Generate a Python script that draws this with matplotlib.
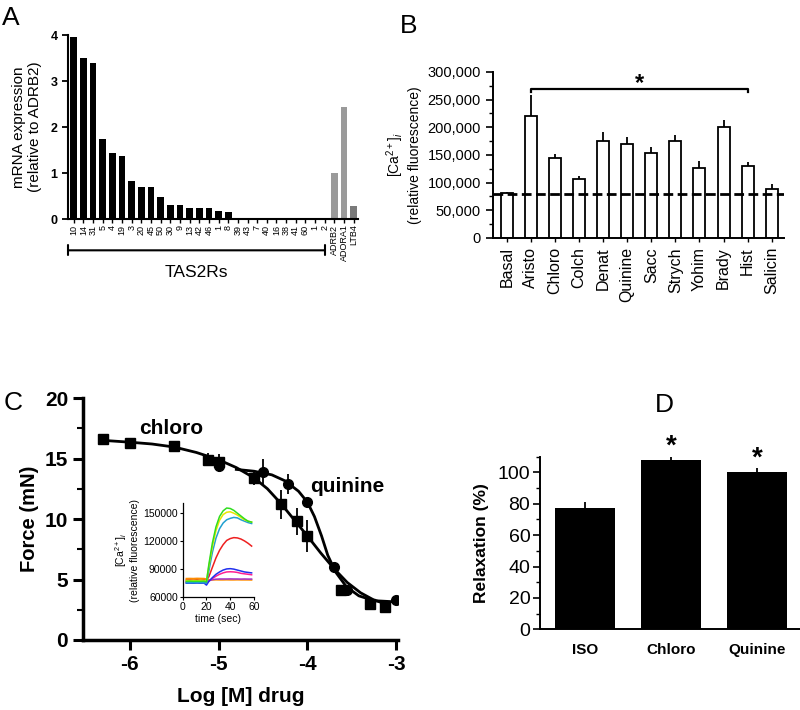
import numpy as np
import matplotlib
matplotlib.use('Agg')
import matplotlib.pyplot as plt
from matplotlib.ticker import MultipleLocator, FuncFormatter

plt.rcParams['font.family'] = ['Liberation Sans', 'DejaVu Sans']
plt.rcParams['axes.unicode_minus'] = False
plt.rcParams['mathtext.fontset'] = 'custom'
plt.rcParams['mathtext.rm'] = 'Liberation Sans'
plt.rcParams['mathtext.it'] = 'Liberation Sans:italic'
plt.rcParams['mathtext.bf'] = 'Liberation Sans:bold'

# ---- Panel A: mRNA expression ----
a_labels = ['10', '14', '31', '5', '4', '19', '3', '20', '45', '50', '30', '9', '13', '42', '46',
            '1', '8', '39', '43', '7', '40', '16', '38', '41', '60', '1', '2',
            'ADRB2', 'ADORA1', 'LTB4']
a_values = [3.95, 3.49, 3.40, 1.75, 1.44, 1.37, 0.83, 0.70, 0.69, 0.47, 0.30, 0.30, 0.25, 0.25, 0.25,
            0.17, 0.15, 0, 0, 0, 0, 0, 0, 0, 0, 0, 0,
            1.0, 2.43, 0.28]
a_colors = ['black'] * 27 + ['#9a9a9a', '#9a9a9a', '#7a7a7a']

# ---- Panel B: calcium response ----
b_labels = ['Basal', 'Aristo', 'Chloro', 'Colch', 'Denat', 'Quinine', 'Sacc', 'Strych',
            'Yohim', 'Brady', 'Hist', 'Salicin']
b_values = [81000, 221000, 144000, 107000, 175000, 170000, 153000, 176000, 127000, 201000, 130000, 89000]
b_errors = [2000, 38000, 8000, 5000, 17000, 12000, 12000, 10000, 12000, 13000, 8000, 8000]
b_basal = 80000

# ---- Panel C: force vs log dose ----
chloro_x = [-6.3, -6.0, -5.5, -5.12, -5.0, -4.6, -4.3, -4.12, -4.0, -3.62, -3.3, -3.12]
chloro_y = [16.6, 16.3, 16.0, 14.9, 14.7, 13.4, 11.2, 9.8, 8.6, 4.1, 3.0, 2.7]
chloro_err = [0, 0, 0, 0.55, 0.7, 0.6, 1.2, 1.1, 1.3, 0.4, 0.2, 0.3]
quinine_x = [-5.0, -4.5, -4.22, -4.0, -3.7, -3.55, -3.0]
quinine_y = [14.4, 13.9, 12.9, 11.4, 6.0, 4.1, 3.3]
quinine_err = [0.5, 1.1, 0.8, 0.3, 0.3, 0.3, 0.2]
# fitted curves
chloro_fit_x = [-6.3, -6.0, -5.75, -5.5, -5.25, -5.0, -4.8, -4.6, -4.45, -4.3, -4.15, -4.0,
                -3.85, -3.7, -3.55, -3.4, -3.25, -3.1]
chloro_fit_y = [16.5, 16.35, 16.2, 15.95, 15.5, 14.9, 14.25, 13.4, 12.5, 11.3, 9.95, 8.6,
                7.2, 5.9, 4.75, 3.9, 3.3, 2.95]
quinine_fit_x = [-4.8, -4.6, -4.4, -4.25, -4.1, -4.0, -3.92, -3.84, -3.77, -3.68, -3.56,
                 -3.42, -3.25, -3.0]
quinine_fit_y = [14.1, 13.95, 13.65, 13.15, 12.3, 11.4, 10.2, 8.6, 7.0, 5.6, 4.4,
                 3.65, 3.25, 3.15]

# inset traces
t_sec = [3, 6, 9, 12, 15, 18, 20, 22, 25, 28, 31, 34, 37, 40, 43, 46, 49, 52, 55, 58]
trace_orange = [80000, 80100, 80000, 80200, 80100, 80000, 79500, 78500, 78500, 78600, 78500, 78500,
                78600, 78500, 78500, 78600, 78500, 78500, 78500, 78400]
trace_purple = [76500, 76500, 76600, 76500, 76500, 76600, 76000, 77500, 78800, 79300, 79500, 79500,
                79500, 79600, 79500, 79500, 79400, 79500, 79400, 79400]
trace_magenta = [76000, 76100, 76000, 76100, 76000, 76100, 75000, 77500, 80000, 82500, 84500, 86000,
                 87000, 87200, 87000, 86500, 85500, 85000, 84500, 84000]
trace_blue = [75000, 75100, 75000, 75200, 75000, 75100, 73000, 77000, 81000, 84500, 87000, 89000,
              90200, 90500, 90000, 89000, 88000, 87000, 86500, 86000]
trace_red = [78500, 78600, 78500, 78700, 78500, 78600, 78000, 82000, 92000, 102000, 110000, 116000,
             120500, 122500, 123500, 123200, 122000, 120000, 117500, 114500]
trace_teal = [75500, 75600, 75500, 75700, 75500, 75600, 75000, 88000, 108000, 123000, 133000, 139000,
              142500, 144000, 145000, 144500, 142500, 141000, 139500, 138500]
trace_yellow = [78000, 78000, 78100, 78000, 78200, 78000, 77500, 93000, 114000, 131000, 142000, 148000,
                150500, 151000, 149500, 147500, 145000, 142500, 141000, 140000]
trace_green = [77000, 77200, 77000, 77100, 77000, 77200, 76500, 95000, 118000, 135000, 146000, 152000,
               155000, 154500, 152500, 149500, 146500, 143500, 141000, 140000]

# ---- Panel D: relaxation ----
d_labels = ['ISO', 'Chloro', 'Quinine']
d_values = [77.5, 107.8, 100.0]
d_errors = [3.7, 2.2, 2.6]
d_signif = [False, True, True]


def style_spines(ax, lw):
    ax.spines['top'].set_visible(False)
    ax.spines['right'].set_visible(False)
    ax.spines['left'].set_linewidth(lw)
    ax.spines['bottom'].set_linewidth(lw)


fig = plt.figure(figsize=(8, 7.1), dpi=100)

# Panel A
axA = fig.add_axes([0.085, 0.6915, 0.3625, 0.2592])
xa = np.arange(len(a_values))
axA.bar(xa, a_values, width=0.7, color=a_colors)
axA.set_xlim(-0.6, len(a_values) - 0.55)
axA.set_ylim(0, 4)
axA.set_yticks([0, 1, 2, 3, 4])
axA.set_xticks(xa)
axA.set_xticklabels(a_labels, rotation=90, fontsize=6.5)
axA.tick_params(axis='x', length=3, width=1, pad=1)
axA.tick_params(axis='y', length=4, width=1.3, labelsize=9)
for lab in axA.get_yticklabels():
    lab.set_fontweight('bold')
style_spines(axA, 1.5)
axA.set_ylabel('mRNA expression\n(relative to ADRB2)', fontsize=11, labelpad=6)
# TAS2R bracket
axA.annotate('', xy=(-0.6, -0.17), xytext=(26, -0.17),
             xycoords=('data', 'axes fraction'), textcoords=('data', 'axes fraction'),
             arrowprops=dict(arrowstyle='|-|, widthA=0.35, widthB=0.35', lw=1.5, color='black',
                             shrinkA=0, shrinkB=0),
             annotation_clip=False)
axA.text(12.7, -0.29, 'TAS2Rs', transform=axA.get_xaxis_transform(), ha='center', va='center',
         fontsize=12.5)

# Panel B
axB = fig.add_axes([0.616, 0.6648, 0.364, 0.2338])
xb = np.arange(len(b_values))
axB.bar(xb, b_values, width=0.5, color='white', edgecolor='black', linewidth=1.3,
        yerr=[np.zeros(len(b_errors)), b_errors], capsize=0,
        error_kw=dict(lw=1.3, ecolor='black'))
axB.axhline(b_basal, color='black', lw=2, ls=(0, (3.5, 1.6)))
axB.set_xlim(-0.58, len(b_values) - 0.49)
axB.set_ylim(0, 300000)
axB.yaxis.set_major_locator(MultipleLocator(50000))
axB.yaxis.set_minor_locator(MultipleLocator(25000))
axB.yaxis.set_major_formatter(FuncFormatter(lambda v, p: f'{int(v):,}'))
axB.set_xticks(xb)
axB.set_xticklabels(b_labels, rotation=90, fontsize=11.5)
axB.tick_params(axis='x', length=3, width=1)
axB.tick_params(axis='y', which='major', length=5, width=1.2, labelsize=10.5)
axB.tick_params(axis='y', which='minor', length=3, width=1)
style_spines(axB, 1.4)
axB.set_ylabel('[Ca$^{2+}$]$_{i}$\n(relative fluorescence)', fontsize=10, labelpad=4)
axB.plot([1, 1, 10, 10], [263000, 269000, 269000, 263000], color='black', lw=1.6, clip_on=False)
axB.text(5.5, 268000, '*', ha='center', va='baseline', fontsize=17, fontweight='bold')

# Panel C
axC = fig.add_axes([0.1034, 0.0986, 0.394, 0.3408])
axC.plot(chloro_fit_x, chloro_fit_y, color='black', lw=2)
axC.plot(quinine_fit_x, quinine_fit_y, color='black', lw=2)
axC.errorbar(chloro_x, chloro_y, yerr=chloro_err, fmt='s', color='black', ms=7.5, capsize=0,
             elinewidth=1.3)
axC.errorbar(quinine_x, quinine_y, yerr=quinine_err, fmt='o', color='black', ms=7, capsize=0,
             elinewidth=1.3)
axC.set_xlim(-6.53, -2.98)
axC.set_ylim(0, 20)
axC.set_xticks([-6, -5, -4, -3])
axC.set_yticks([0, 5, 10, 15, 20])
axC.yaxis.set_minor_locator(MultipleLocator(2.5))
axC.tick_params(axis='both', which='major', length=7, width=2.2, labelsize=15)
axC.tick_params(axis='y', which='minor', length=4, width=1.5)
for lab in axC.get_xticklabels() + axC.get_yticklabels():
    lab.set_fontweight('bold')
style_spines(axC, 2.5)
axC.set_xlabel('Log [M] drug', fontsize=15, fontweight='bold', labelpad=10)
axC.set_ylabel('Force (mN)', fontsize=14.5, fontweight='bold', labelpad=4)
axC.text(-5.53, 17.5, 'chloro', ha='center', va='center', fontsize=15, fontweight='bold')
axC.text(-3.55, 12.65, 'quinine', ha='center', va='center', fontsize=15, fontweight='bold')

# Inset
axIn = fig.add_axes([0.2284, 0.1587, 0.0891, 0.1324])
axIn.patch.set_alpha(0)
traces = [(trace_orange, '#ff8c00'), (trace_purple, '#a030c8'), (trace_magenta, '#ff2090'),
          (trace_blue, '#2030ee'), (trace_red, '#ee2020'), (trace_teal, '#20a0d0'),
          (trace_yellow, '#e6e600'), (trace_green, '#30dd20')]
for vals, col in traces:
    axIn.plot(t_sec, vals, color=col, lw=1.1)
axIn.set_xlim(0, 60)
axIn.set_ylim(60000, 160000)
axIn.set_xticks([0, 20, 40, 60])
axIn.set_yticks([60000, 90000, 120000, 150000])
axIn.tick_params(labelsize=7.5, length=2.5, width=0.8, pad=1)
style_spines(axIn, 0.9)
axIn.set_xlabel('time (sec)', fontsize=7.5, labelpad=1)
axIn.set_ylabel('[Ca$^{2+}$]$_{i}$\n(relative fluorescence)', fontsize=7.5, labelpad=2)

# Panel D
axD = fig.add_axes([0.675, 0.1137, 0.325, 0.2431])
xd = np.arange(len(d_values))
axD.bar(xd, d_values, width=0.7, color='black',
        yerr=[np.zeros(len(d_errors)), d_errors], capsize=0,
        error_kw=dict(lw=1.3, ecolor='black'))
for xi, v, e, s in zip(xd, d_values, d_errors, d_signif):
    if s:
        axD.text(xi, v + e + 2, '*', ha='center', va='baseline', fontsize=20, fontweight='bold')
axD.set_xlim(-0.52, len(d_values) - 0.5)
axD.set_ylim(0, 110)
axD.yaxis.set_major_locator(MultipleLocator(20))
axD.yaxis.set_minor_locator(MultipleLocator(10))
axD.set_xticks(xd)
axD.set_xticklabels(d_labels, fontsize=11, fontweight='bold')
axD.tick_params(axis='x', length=0, pad=10)
axD.tick_params(axis='y', which='major', length=5, width=1.2, labelsize=14, pad=2)
axD.tick_params(axis='y', which='minor', length=3, width=1)
style_spines(axD, 1.4)
axD.set_ylabel('Relaxation (%)', fontsize=12.5, fontweight='bold', labelpad=6)

# panel letters
fig.text(0.003, 0.965, 'A', fontsize=19, va='baseline')
fig.text(0.5, 0.9535, 'B', fontsize=19, va='baseline')
fig.text(0.005, 0.4225, 'C', fontsize=19, va='baseline')
fig.text(0.819, 0.42, 'D', fontsize=19, va='baseline')

fig.savefig('out.png', dpi=100)
